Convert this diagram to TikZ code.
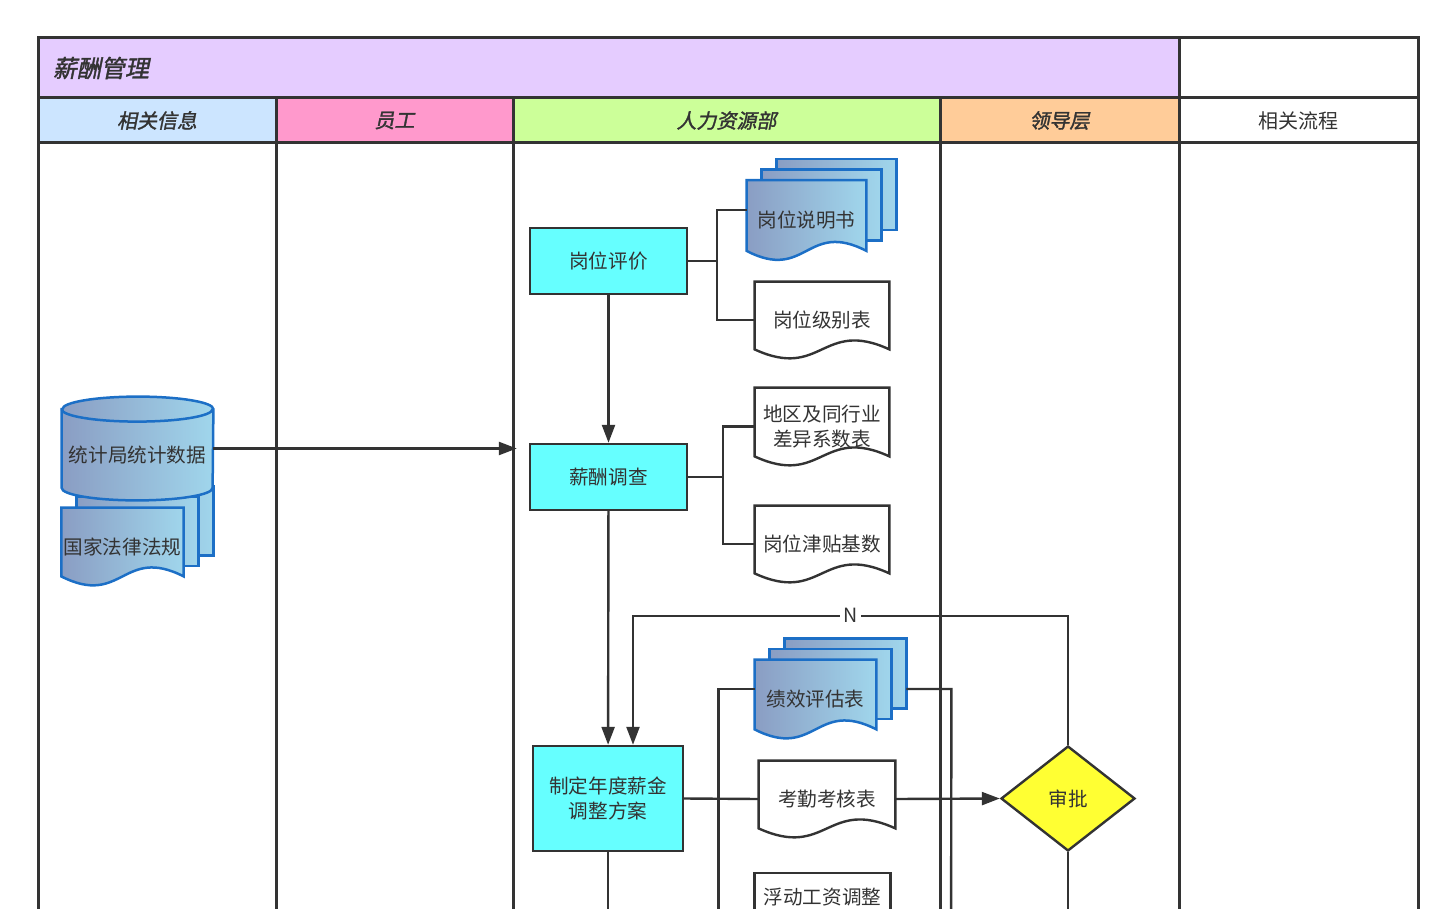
\documentclass[tikz,border=0pt]{standalone}
\usepackage{fontspec}
\setmainfont{Noto Sans CJK SC}
\newfontfamily\headfont{Noto Sans CJK SC}[FakeSlant=0.2,FakeBold=1.5]
\usepackage{xcolor}
\usetikzlibrary{arrows.meta,positioning,calc,shapes.geometric}

\definecolor{ink}{HTML}{333333}
\definecolor{titleC}{HTML}{E5CCFF}
\definecolor{infoC}{HTML}{CCE5FF}
\definecolor{staffC}{HTML}{FF99CC}
\definecolor{hrC}{HTML}{CCFF99}
\definecolor{leadC}{HTML}{FFCC99}
\definecolor{taskC}{HTML}{66FFFF}
\definecolor{checkC}{HTML}{FFFF33}
\definecolor{docL}{HTML}{8A9DC3}
\definecolor{docR}{HTML}{A0D6EC}
\definecolor{docB}{HTML}{1C6FC6}

\newcommand{\boxfont}{\fontsize{9.8}{12.5}\selectfont}

\pgfdeclarelayer{shapes}
\pgfsetlayers{shapes,main}

% wavy document outline behind a node
\newcommand{\docoutline}[2]{%
  \begin{pgfonlayer}{shapes}
  \draw[#1] (#2.north west) -- (#2.north east) -- ($(#2.south east)+(0,9)$)
    .. controls ($(#2.south)+(0,40)$) and ($(#2.south)+(0,-22)$) .. ($(#2.south west)+(0,9)$) -- cycle;
  \end{pgfonlayer}}

% three stacked documents, the front one is the node
\newcommand{\docstack}[1]{%
  \begin{pgfonlayer}{shapes}
  \foreach \k in {2,1}
    \draw[docblue] ($(#1.north west)+(15*\k,10.5*\k)$) rectangle ($(#1.south east)+(15*\k,9+10.5*\k)$);
  \end{pgfonlayer}
  \docoutline{docblue}{#1}}

% database cylinder behind a node
\newcommand{\dbshape}[1]{%
  \begin{pgfonlayer}{shapes}
  \draw[docblue] ($(#1.north west)+(0,-12.5)$) -- ($(#1.south west)+(0,12.5)$)
    arc[start angle=180, end angle=360, x radius=37.75pt, y radius=6.25pt]
    -- ($(#1.north east)+(0,-12.5)$)
    arc[start angle=0, end angle=180, x radius=37.75pt, y radius=6.25pt] -- cycle;
  \draw[docB, line width=1.25pt] ($(#1.north west)+(0,-12.5)$)
    arc[start angle=180, end angle=360, x radius=37.75pt, y radius=6.25pt];
  \end{pgfonlayer}}

\begin{document}
\begin{tikzpicture}[
  x=0.5pt, y=0.5pt,
  conn/.style={draw=ink, line width=1.2pt},
  arr/.style={conn, -{Triangle[length=9pt,width=6.5pt]}},
  lane/.style={draw=ink, line width=1.5pt},
  hdr/.style={lane, minimum height=22.5pt, inner sep=0pt, outer sep=0pt, text=ink,
    font=\headfont\fontsize{10}{12}\selectfont},
  task/.style={draw=ink, line width=1.2pt, fill=taskC, minimum width=78.5pt,
    minimum height=33pt, align=center, font=\boxfont, text=ink},
  doc/.style={inner sep=1pt, align=center, font=\boxfont, text=ink},
  docw/.style={draw=ink, line width=1.2pt, fill=white},
  docblue/.style={draw=docB, line width=1.25pt, left color=docL, right color=docR},
  check/.style={diamond, draw=ink, line width=1.2pt, fill=checkC, aspect=1.3,
    minimum width=67pt, minimum height=52.5pt, inner sep=0pt, font=\boxfont, text=ink}]

  \useasboundingbox (0,0) rectangle (1455,-909);
  \clip (0,0) rectangle (1455,-909);

  % swimlanes
  \node[hdr, fill=infoC, minimum width=119pt] (h1) at (157,-120.5) {相关信息};
  \node[hdr, fill=staffC, minimum width=118.5pt, right=0pt of h1] (h2) {员工};
  \node[hdr, fill=hrC, minimum width=213.5pt, right=0pt of h2] (h3) {人力资源部};
  \node[hdr, fill=leadC, minimum width=119.5pt, right=0pt of h3] (h4) {领导层};
  \node[hdr, fill=white, minimum width=119.5pt, right=0pt of h4,
    font=\fontsize{10}{12}\selectfont] (h5) {相关流程};
  \node[hdr, fill=titleC, anchor=south west, minimum height=30pt, inner xsep=7.5pt,
    text width=555.5pt, align=left, font=\headfont\fontsize{12}{14}\selectfont]
    (title) at (h1.north west) {薪酬管理};
  \node[hdr, fill=white, minimum width=119.5pt, minimum height=30pt,
    anchor=south west] (blank) at (h5.north west) {};
  \foreach \h in {h1,h2,h3,h4,h5}
    \draw[lane] (\h.south west) rectangle ($(\h.south east)+(0,-820)$);

  % related information
  \node[doc, minimum width=60.5pt, minimum height=38.5pt] (gj) at (122.5,-546.5) {国家法律法规};
  \node[doc, minimum width=75.5pt, minimum height=51.5pt, text height=14.5pt,
    text depth=1pt] (db) at (137.5,-448.5) {统计局统计数据};
  \docstack{gj}
  \dbshape{db}

  % HR department
  \node[task] (gw) at (608.5,-261) {岗位评价};
  \node[task] (xc) at (608.5,-477) {薪酬调查};
  \node[task, minimum width=75pt, minimum height=52.5pt] (fa) at (608,-798.5) {制定年度薪金\\调整方案};

  \node[doc, minimum width=59.5pt, minimum height=39.5pt] (sm) at (806.5,-220) {岗位说明书};
  \node[doc, minimum width=67pt, minimum height=38pt] (jb) at (822,-320) {岗位级别表};
  \node[doc, minimum width=67pt, minimum height=38.5pt] (dq) at (822,-426.5) {地区及同行业\\差异系数表};
  \node[doc, minimum width=67pt, minimum height=38pt] (jt) at (822,-544) {岗位津贴基数};
  \node[doc, minimum width=60.5pt, minimum height=39pt] (jx) at (815.5,-699) {绩效评估表};
  \node[doc, minimum width=68pt, minimum height=38pt] (kq) at (827,-799) {考勤考核表};
  \node[doc, anchor=north, minimum width=67.5pt, text height=12.3pt, text depth=30pt,
    inner ysep=3pt] (fd) at (822.5,-873) {浮动工资调整};
  \docstack{sm}
  \docoutline{docw}{jb}
  \docoutline{docw}{dq}
  \docoutline{docw}{jt}
  \docstack{jx}
  \docoutline{docw}{kq}
  \begin{pgfonlayer}{shapes}
    \draw[docw] (fd.south west) rectangle (fd.north east);
  \end{pgfonlayer}

  % leadership
  \node[check] (sp) at (1068,-798.5) {审批};

  \coordinate (jxout) at (951,-1000);

  % connectors
  \draw[conn] (gw.east) -- ++(29,0) |- ([yshift=5pt]sm.west);
  \draw[conn] (gw.east) -- ++(29,0) |- (jb.west);
  \draw[arr] (gw) -- (xc);
  \draw[conn] (xc.east) -- ++(35,0) |- (dq.west);
  \draw[conn] (xc.east) -- ++(35,0) |- (jt.west);
  \draw[arr, shorten >=6pt] (db.east) -- (db.east -| xc.west);
  \draw[arr] (xc) -- (fa);
  \draw[arr] (sp.north) -- ++(0,129) -| node[pos=0.25, fill=white, inner sep=1.5pt,
    font=\boxfont, text=ink] {N} ([xshift=12.5pt]fa.north);
  \draw[conn] (fa.east) -- (kq.west);
  \draw[conn] ([yshift=5pt]jx.west) -- ++(-36,0) |- (fd.west);
  \draw[conn] ([xshift=15pt,yshift=5pt]jx.east) -- ++(45,0) -- (jxout);
  \draw[arr] (kq.east) -- (sp.west);
  \draw[conn] (sp.south) -- ++(0,-200);
  \draw[conn] (fa.south) -- ++(0,-200);
\end{tikzpicture}
\end{document}
